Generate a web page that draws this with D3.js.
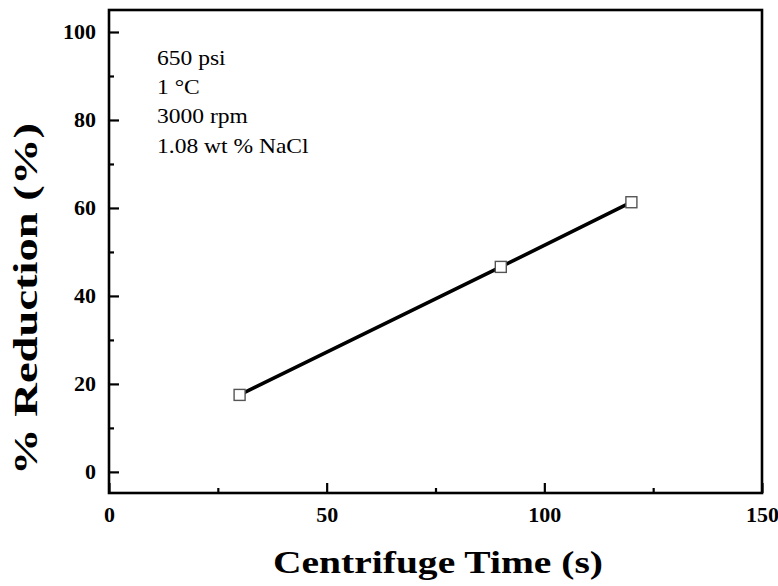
<!DOCTYPE html>
<html><head><meta charset="utf-8">
<script src="https://cdn.jsdelivr.net/npm/d3@7"></script>
<style>
body{margin:0;background:#fff;}
svg{display:block;}
text{font-family:"Liberation Serif","Times New Roman",serif;}
</style></head>
<body>
<svg id="c" width="778" height="586"></svg>
<script>
const timeValues = [30, 90, 120];
const reductionValues = [17.5, 46.6, 61.3];
const xMajorTicks = [0, 50, 100, 150];
const xMinorTicks = [25, 75, 125];
const yMajorTicks = [0, 20, 40, 60, 80, 100];
const yMinorTicks = [10, 30, 50, 70, 90];
const annotations = ["650 psi", "1 \u00B0C", "3000 rpm", "1.08 wt % NaCl"];
const xTitle = "Centrifuge Time (s)";
const yTitle = "% Reduction (%)";

const svg = d3.select("#c");
const L = 109, R = 762, T = 10, B = 493;
const x = d3.scaleLinear().domain([0, 150]).range([L, R]);
const y = d3.scaleLinear().domain([-4.8, 105]).range([B, T]);

function stretch(sel, k) {
  sel.each(function () {
    const w = this.getComputedTextLength();
    d3.select(this).attr("textLength", w * k).attr("lengthAdjust", "spacingAndGlyphs");
  });
}

// frame
svg.append("rect").attr("x", L).attr("y", T).attr("width", R - L).attr("height", B - T)
  .attr("fill", "none").attr("stroke", "#000").attr("stroke-width", 2.6);

// x axis
const xAxis = svg.append("g").attr("transform", `translate(0,${B})`)
  .call(d3.axisBottom(x).tickValues(xMajorTicks).tickSize(-10).tickPadding(15).tickFormat(d3.format("d")));
xAxis.select(".domain").remove();
xAxis.selectAll(".tick line").attr("stroke-width", 2.2);
xAxis.selectAll("text").attr("font-size", 20).attr("font-weight", "bold").attr("dy", "0.71em");
stretch(xAxis.selectAll("text"), 1.1);
const xMin = svg.append("g").attr("transform", `translate(0,${B})`)
  .call(d3.axisBottom(x).tickValues(xMinorTicks).tickSize(-5).tickFormat(""));
xMin.select(".domain").remove();
xMin.selectAll(".tick line").attr("stroke-width", 2.2);

// y axis
const yAxis = svg.append("g").attr("transform", `translate(${L},0)`)
  .call(d3.axisLeft(y).tickValues(yMajorTicks).tickSize(-10).tickPadding(13).tickFormat(d3.format("d")));
yAxis.select(".domain").remove();
yAxis.selectAll(".tick line").attr("stroke-width", 2.2);
yAxis.selectAll("text").attr("font-size", 20).attr("font-weight", "bold");
stretch(yAxis.selectAll("text"), 1.1);
const yMin = svg.append("g").attr("transform", `translate(${L},0)`)
  .call(d3.axisLeft(y).tickValues(yMinorTicks).tickSize(-5).tickFormat(""));
yMin.select(".domain").remove();
yMin.selectAll(".tick line").attr("stroke-width", 2.2);

// line
const pts = timeValues.map((t, i) => [t, reductionValues[i]]);
svg.append("path").datum(pts)
  .attr("d", d3.line().x(d => x(d[0])).y(d => y(d[1])))
  .attr("fill", "none").attr("stroke", "#000").attr("stroke-width", 3.6);

// markers
svg.selectAll("rect.m").data(pts).enter().append("rect").attr("class", "m")
  .attr("x", d => x(d[0]) - 5.5).attr("y", d => y(d[1]) - 5.5)
  .attr("width", 11).attr("height", 11)
  .attr("fill", "#fff").attr("stroke", "#555").attr("stroke-width", 1.4);

// annotations
const ann = svg.selectAll("text.ann").data(annotations).enter().append("text").attr("class", "ann")
  .attr("x", 157).attr("y", (d, i) => 57.7 + i * 29.2).attr("dy", "0.35em")
  .attr("font-size", 21).text(d => d);
stretch(ann, 1.12);

// titles
const xt = svg.append("text").attr("x", 438).attr("y", 573)
  .attr("text-anchor", "middle").attr("font-size", 31).attr("font-weight", "bold").text(xTitle)
  .attr("textLength", 330).attr("lengthAdjust", "spacingAndGlyphs");
const yt = svg.append("text").attr("transform", `translate(37,299) rotate(-90)`)
  .attr("text-anchor", "middle").attr("font-size", 34).attr("font-weight", "bold").text(yTitle)
  .attr("textLength", 352).attr("lengthAdjust", "spacingAndGlyphs");
</script>
</body></html>
